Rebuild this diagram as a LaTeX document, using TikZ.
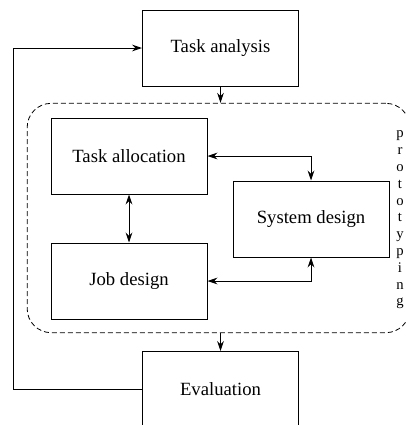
\documentclass[tikz,border=0pt]{standalone}
\usepackage{fontspec}
\setmainfont{Liberation Serif}
\usetikzlibrary{arrows.meta}

\tikzset{
  stage/.style={draw, line width=0.75pt, minimum width=117pt, minimum height=57pt,
    inner sep=0pt, font=\fontsize{14}{16}\selectfont},
  link/.style={line width=0.75pt},
}

\begin{document}
\begin{tikzpicture}[x=0.75pt, y=-0.75pt, >={Stealth[length=7.5pt,width=5pt]}]
    \clip (0,0) rectangle (406,425);

    % prototyping loop
    \node[draw, dash pattern=on 3.75pt off 2.25pt, line width=0.6pt, rounded corners=18pt,
      minimum width=287pt, minimum height=172pt] (proto) at (218.5,218) {};
    \node[align=center, inner sep=0pt, font=\fontsize{11}{12.6}\selectfont] (label) at (400,220)
      {p\\r\\o\\t\\o\\t\\y\\p\\i\\n\\g};

    \node[stage] (analysis) at (220.5,48) {Task analysis};
    \node[stage] (alloc) at (129,156) {Task allocation};
    \node[stage] (job) at (129,281) {Job design};
    \node[stage] (system) at (311,219) {System design};
    \node[stage] (eval) at (220.5,389.5) {Evaluation};
    \coordinate (back) at (13,389.5);

    \draw[link, ->] (analysis.south) -- (analysis.south |- proto.north);
    \draw[link, ->] (eval.north |- proto.south) -- (eval.north);
    \draw[link, <->] (alloc.east) -| (system.north);
    \draw[link, <->] (job.east) -| (system.south);
    \draw[link, <->] (alloc.south) -- (job.north);
    \draw[link, ->] (eval.west) -- (back) |- (analysis.west);
\end{tikzpicture}
\end{document}
